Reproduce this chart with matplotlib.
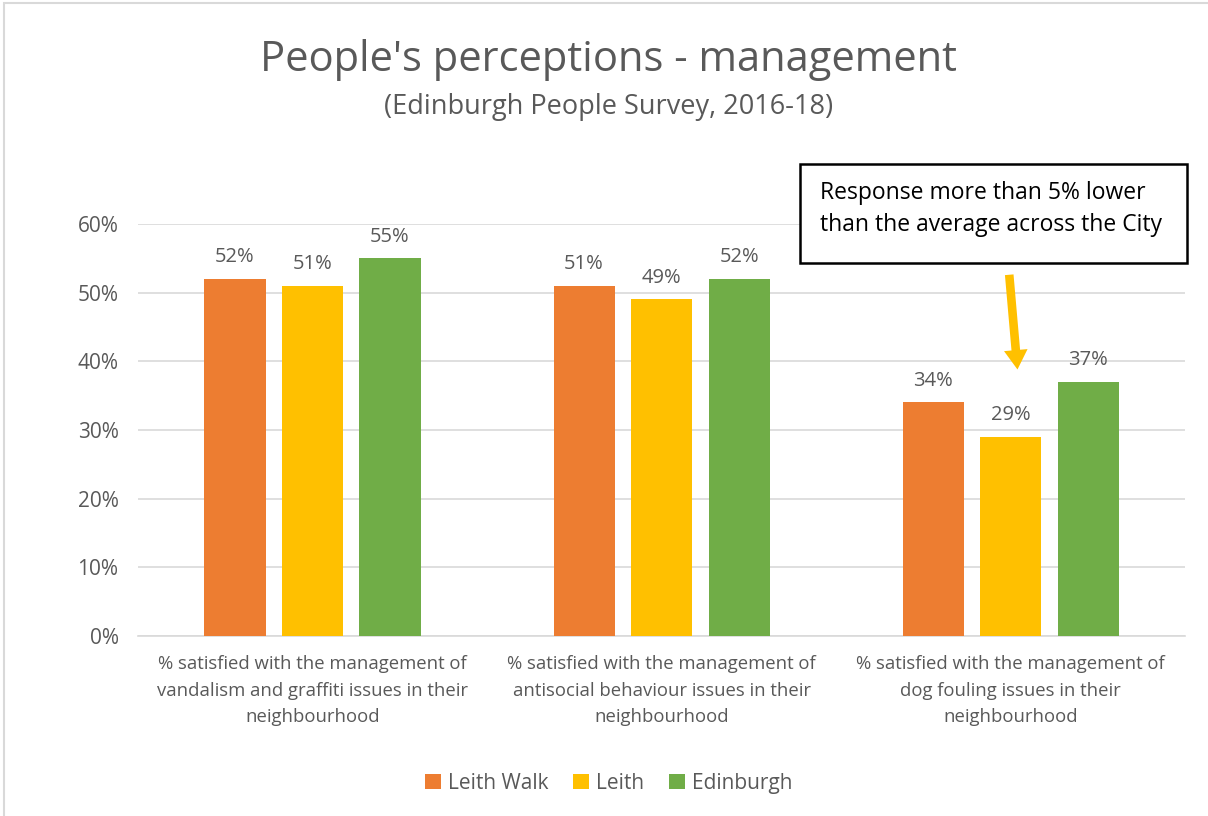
import matplotlib.pyplot as plt
from matplotlib.patches import Rectangle
import numpy as np

plt.rcParams['font.family'] = ['Open Sans', 'DejaVu Sans']

# data
categories = ['% satisfied with the management of\nvandalism and graffiti issues in their\nneighbourhood',
              '% satisfied with the management of\nantisocial behaviour issues in their\nneighbourhood',
              '% satisfied with the management of\ndog fouling issues in their\nneighbourhood']
series = ['Leith Walk', 'Leith', 'Edinburgh']
leith_walk = [0.52, 0.51, 0.34]
leith = [0.51, 0.49, 0.29]
edinburgh = [0.55, 0.52, 0.37]
colors = ['#ED7D31', '#FFC000', '#70AD47']
yticks = [0, 0.1, 0.2, 0.3, 0.4, 0.5, 0.6]

grey = '#595959'

fig = plt.figure(figsize=(12.08, 8.16), dpi=100)
ax = fig.add_axes([0.1142, 0.2206, 0.867, 0.505])

x = np.arange(len(categories))
width = 0.175
step = 0.222
for i, (name, vals) in enumerate(zip(series, [leith_walk, leith, edinburgh])):
    pos = x + (i - 1) * step
    ax.bar(pos, vals, width, color=colors[i], label=name, zorder=3)
    for p, v in zip(pos, vals):
        ax.text(p, v + 0.017, f'{v:.0%}', ha='center', va='bottom',
                fontsize=14.5, color=grey)

ax.set_xlim(-0.5, 2.5)
ax.set_ylim(0, 0.6)
ax.set_yticks(yticks, [f'{t:.0%}' for t in yticks])
ax.set_xticks(x, categories)
ax.tick_params(axis='y', length=0, labelsize=15, labelcolor=grey, pad=14)
ax.tick_params(axis='x', length=0, labelsize=13.3, labelcolor=grey, pad=14)
for lab in ax.get_xticklabels():
    lab.set_linespacing(1.58)
ax.grid(axis='y', color='#D9D9D9', linewidth=1.2, zorder=0)
for s in ['top', 'right', 'left']:
    ax.spines[s].set_visible(False)
ax.spines['bottom'].set_color('#D9D9D9')
ax.spines['bottom'].set_linewidth(1.2)

# arrow pointing at the Leith bar in the dog fouling group
ax.annotate('', xy=(x[2] + 0.02, 0.384), xytext=(x[2] - 0.005, 0.53),
            arrowprops=dict(arrowstyle='simple,head_width=1.7,head_length=1.4,tail_width=0.62',
                            color='#FFC000', lw=0), annotation_clip=False)

fig.text(0.504, 0.926, "People's perceptions - management", ha='center', va='center',
         fontsize=30, color=grey)
fig.text(0.504, 0.869, '(Edinburgh People Survey, 2016-18)', ha='center', va='center',
         fontsize=19.5, color=grey)

# callout box
fig.patches.append(Rectangle((0.662, 0.678), 0.321, 0.121, transform=fig.transFigure,
                             facecolor='white', edgecolor='black', linewidth=1.8))
fig.text(0.679, 0.744, 'Response more than 5% lower\nthan the average across the City',
         ha='left', va='center', fontsize=16.5, color='black', linespacing=1.45)

# chart border
fig.patches.append(Rectangle((0.003, -0.01), 1.0, 1.006, transform=fig.transFigure,
                             facecolor='none', edgecolor='#D9D9D9', linewidth=1.5))

fig.legend(loc='center', bbox_to_anchor=(0.504, 0.04), ncol=3, frameon=False,
           fontsize=15, labelcolor=grey, handlelength=0.75, handleheight=0.75,
           handletextpad=0.35, columnspacing=1.2)

fig.savefig('out.png', dpi=100)
